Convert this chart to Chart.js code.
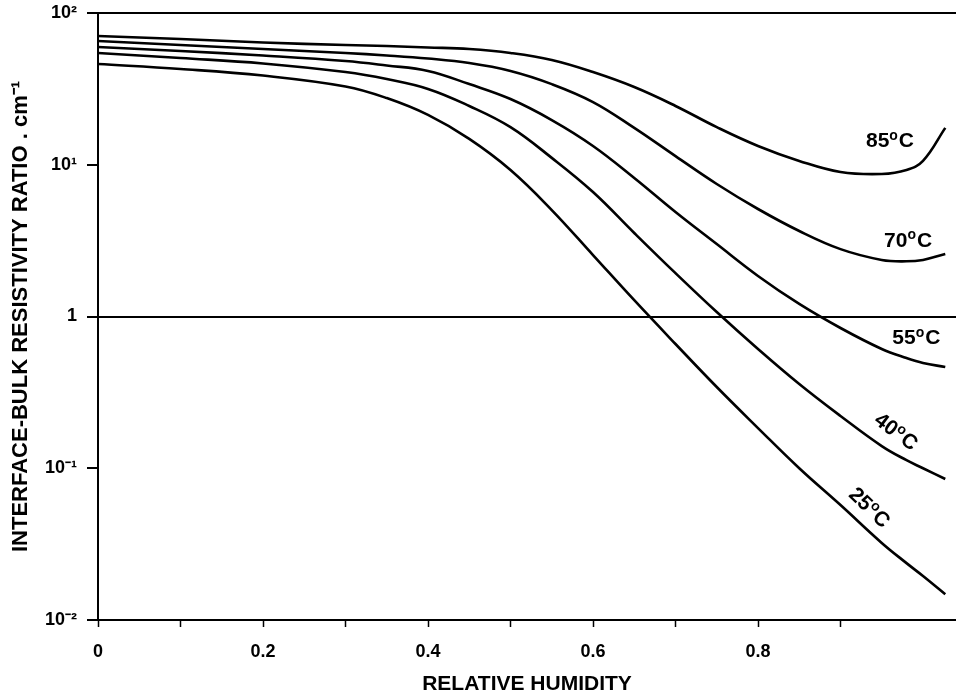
<!DOCTYPE html>
<html>
<head>
<meta charset="utf-8">
<title>Interface-bulk resistivity ratio vs relative humidity</title>
<script src="https://cdn.jsdelivr.net/npm/chart.js@4.4.1/dist/chart.umd.min.js"></script>
<style>
  html, body { margin: 0; padding: 0; background: #fff; }
  #wrap { width: 956px; height: 697px; position: relative; }
</style>
</head>
<body>
<div id="wrap"><canvas id="rhChart"></canvas></div>
<script>
// ── data ────────────────────────────────────
const humidity = [0, 0.1, 0.2, 0.3, 0.35, 0.4, 0.45, 0.5, 0.55, 0.6, 0.65, 0.7, 0.75, 0.8, 0.85, 0.9, 0.95, 0.98, 1.0, 1.027];

const ratio85 = [70.5, 67.4, 63.9, 61.5, 60.6, 59.3, 57.9, 54.5, 49.0, 40.8, 32.5, 24.4, 17.7, 13.3, 10.6, 8.96, 8.69, 9.23, 10.6, 17.5];
const ratio70 = [65.4, 61.5, 57.9, 54.5, 52.5, 50.1, 46.8, 41.5, 34.0, 25.9, 17.5, 11.4, 7.47, 5.11, 3.66, 2.78, 2.36, 2.31, 2.36, 2.58];
const ratio55 = [59.7, 56.2, 52.5, 48.3, 45.1, 41.5, 34.0, 27.1, 19.7, 13.3, 8.18, 4.88, 3.00, 1.85, 1.21, 0.840, 0.611, 0.532, 0.494, 0.465];
const ratio40 = [54.5, 50.5, 46.5, 40.8, 36.7, 31.6, 24.4, 17.7, 11.1, 6.61, 3.55, 1.93, 1.07, 0.611, 0.359, 0.221, 0.140, 0.113, 0.100, 0.0849];
const ratio25 = [46.1, 42.8, 38.7, 32.8, 27.5, 21.3, 14.8, 9.23, 5.03, 2.54, 1.28, 0.659, 0.343, 0.184, 0.100, 0.0572, 0.0322, 0.0237, 0.0195, 0.0148];

const seriesNames = ['85', '70', '55', '40', '25'];
const seriesValues = [ratio85, ratio70, ratio55, ratio40, ratio25];

const yTickValues = [0.01, 0.1, 1, 10, 100];
const yTickLabels = ['10\u207B\u00B2', '10\u207B\u00B9', '1', '10\u00B9', '10\u00B2'];
const xTickValues = [0, 0.1, 0.2, 0.3, 0.4, 0.5, 0.6, 0.7, 0.8, 0.9];
const xTickLabels = ['0', '', '0.2', '', '0.4', '', '0.6', '', '0.8', ''];

// where each curve's temperature tag sits (data space) and its tilt
const curveTags = [
  { x: 0.960, y: 14.6, rot: 0 },
  { x: 0.982, y: 3.24, rot: 0 },
  { x: 0.992, y: 0.733, rot: 0 },
  { x: 0.968, y: 0.176, rot: 37 },
  { x: 0.936, y: 0.0555, rot: 44 }
];

const FONT = "'Liberation Sans', Arial, Helvetica, sans-serif";

// ── temperature tags drawn next to the curves ──
const tagPlugin = {
  id: 'curveTags',
  afterDatasetsDraw(chart) {
    const { ctx, scales: { x, y } } = chart;
    ctx.save();
    ctx.fillStyle = '#000';
    ctx.textBaseline = 'alphabetic';
    curveTags.forEach((t, i) => {
      const px = x.getPixelForValue(t.x);
      const py = y.getPixelForValue(t.y);
      const big = 'bold 21px ' + FONT;
      const small = 'bold 14px ' + FONT;
      ctx.font = big;
      const wNum = ctx.measureText(seriesNames[i]).width;
      const wC = ctx.measureText('C').width;
      ctx.font = small;
      const wO = ctx.measureText('o').width + 1;
      const total = wNum + wO + wC;
      ctx.save();
      ctx.translate(px, py);
      ctx.rotate(t.rot * Math.PI / 180);
      let cx = -total / 2;
      ctx.font = big;
      ctx.fillText(seriesNames[i], cx, 7.5);
      cx += wNum;
      ctx.font = small;
      ctx.fillText('o', cx, 0);
      cx += wO;
      ctx.font = big;
      ctx.fillText('C', cx, 7.5);
      ctx.restore();
    });
    ctx.restore();
  }
};

const datasets = seriesValues.map((vals, i) => ({
  label: seriesNames[i] + '\u00B0C',
  data: humidity.map((h, j) => ({ x: h, y: vals[j] })),
  borderColor: '#000',
  borderWidth: 2.6,
  pointRadius: 0,
  fill: false,
  tension: 0.4
}));

new Chart(document.getElementById('rhChart').getContext('2d'), {
  type: 'line',
  data: { datasets },
  plugins: [tagPlugin],
  options: {
    responsive: true,
    maintainAspectRatio: false,
    animation: false,
    layout: { padding: { top: 13, right: 0, bottom: 0, left: 0 } },
    plugins: {
      legend: { display: false },
      tooltip: { enabled: false }
    },
    scales: {
      x: {
        type: 'linear',
        min: 0,
        max: 1.04,
        afterBuildTicks: s => { s.ticks = xTickValues.map(v => ({ value: v })); },
        afterFit: s => { s.height = 77; s.paddingLeft = 0; s.paddingRight = 0; },
        border: { display: true, color: '#000', width: 2 },
        grid: { drawOnChartArea: false, drawTicks: true, tickLength: 7, tickColor: '#000', tickWidth: 1.5, color: '#000' },
        ticks: {
          autoSkip: false,
          maxRotation: 0,
          padding: 14,
          color: '#000',
          font: { family: FONT, size: 18, weight: 'bold' },
          callback: (v, i) => xTickLabels[i]
        },
        title: {
          display: true,
          text: 'RELATIVE HUMIDITY',
          color: '#000',
          font: { family: FONT, size: 21, weight: 'bold' },
          padding: { top: 0, bottom: 0 }
        }
      },
      y: {
        type: 'logarithmic',
        min: 0.01,
        max: 100,
        afterBuildTicks: s => { s.ticks = yTickValues.map(v => ({ value: v })); },
        afterFit: s => { s.width = 98; s.paddingTop = 0; s.paddingBottom = 0; },
        border: { display: true, color: '#000', width: 2 },
        grid: {
          drawTicks: true,
          tickLength: 11,
          tickColor: '#000',
          tickWidth: 2,
          lineWidth: 2,
          color: c => (c.tick && (c.tick.value === 1 || c.tick.value === 100)) ? '#000' : 'rgba(0,0,0,0)'
        },
        ticks: {
          autoSkip: false,
          padding: 10,
          color: '#000',
          font: { family: FONT, size: 18, weight: 'bold' },
          callback: (v, i) => yTickLabels[i]
        },
        title: {
          display: true,
          text: 'INTERFACE-BULK RESISTIVITY RATIO . cm\u207B\u00B9',
          color: '#000',
          font: { family: FONT, size: 22, weight: 'bold' },
          padding: { top: 8, bottom: 0 }
        }
      }
    }
  }
});
</script>
</body>
</html>
